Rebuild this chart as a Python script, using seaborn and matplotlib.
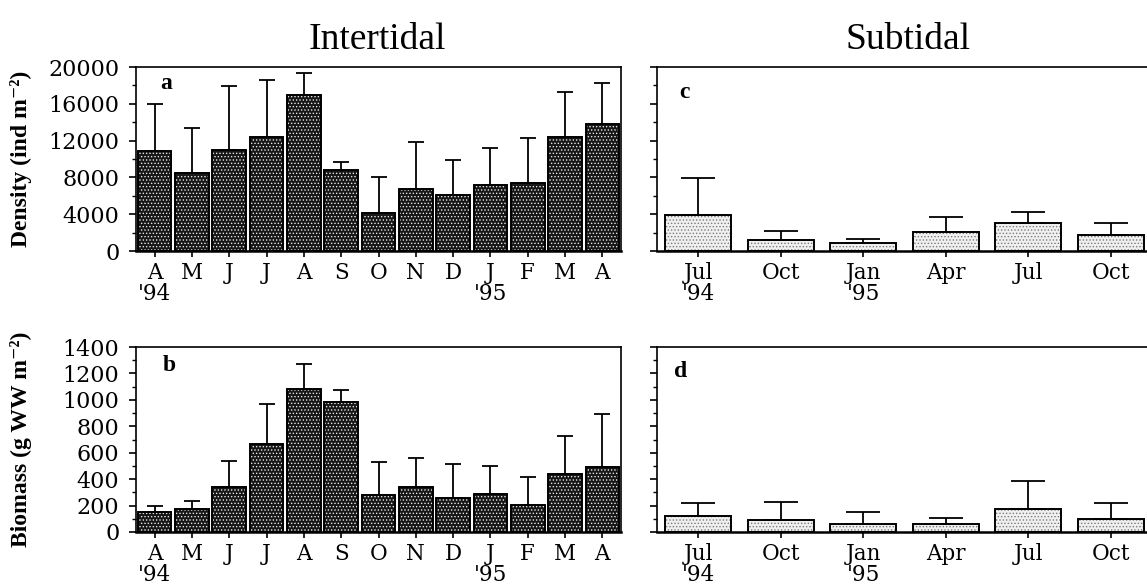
"""
Intertidal vs subtidal density and biomass, monthly means with upper SD bars
"""

import numpy as np
import pandas as pd
import seaborn as sns
import matplotlib.pyplot as plt
from matplotlib.ticker import MultipleLocator

# intertidal, Apr '94 - Apr '95
inter_months = ["Apr94", "May94", "Jun94", "Jul94", "Aug94", "Sep94", "Oct94",
                "Nov94", "Dec94", "Jan95", "Feb95", "Mar95", "Apr95"]
inter_labels = ["A\n'94", "M", "J", "J", "A", "S", "O", "N", "D", "J\n'95", "F", "M", "A"]
inter_density = [10870, 8480, 10940, 12390, 16960, 8840, 4170, 6700, 6090, 7140, 7360, 12390, 13800]
inter_density_sd = [5070, 4920, 7030, 6230, 2350, 800, 3870, 5180, 3770, 4020, 4960, 4860, 4450]
inter_biomass = [153, 173, 338, 667, 1082, 982, 280, 341, 260, 290, 201, 440, 490]
inter_biomass_sd = [46, 64, 199, 298, 191, 90, 247, 221, 252, 206, 219, 288, 405]

# subtidal, quarterly
sub_months = ["Jul94", "Oct94", "Jan95", "Apr95", "Jul95", "Oct95"]
sub_labels = ["Jul\n'94", "Oct", "Jan\n'95", "Apr", "Jul", "Oct"]
sub_density = [3900, 1150, 870, 2070, 3050, 1750]
sub_density_sd = [4000, 1030, 480, 1640, 1240, 1340]
sub_biomass = [119, 91, 61, 58, 175, 101]
sub_biomass_sd = [97, 135, 91, 46, 208, 122]

W, H = 1147, 586
sns.set_style("ticks", rc={"axes.edgecolor": "black", "text.color": "black",
                           "xtick.color": "black", "ytick.color": "black",
                           "axes.labelcolor": "black"})
plt.rcParams["hatch.linewidth"] = 0.6
fig = plt.figure(figsize=(W / 100, H / 100), dpi=100)

TICK_FONT = ["DejaVu Serif"]
LABEL_FONT = ["Liberation Serif", "DejaVu Serif"]


def add_axes_px(left, top, right, bottom):
    return fig.add_axes([left / W, 1 - bottom / H, (right - left) / W, (bottom - top) / H])


def draw_panel(ax, months, labels, values, sd, dark, width, capsize, ymax, major, minor):
    df = pd.DataFrame({"month": months, "value": values})
    if dark:
        face, dots = "#161616", "#e8e8e8"
    else:
        face, dots = "#f0f0f0", "#7a7a7a"
    # stippled fill, then black outline on top
    sns.barplot(data=df, x="month", y="value", order=months, color=face,
                saturation=1, width=width, errorbar=None, edgecolor=dots,
                linewidth=0, ax=ax)
    for p in ax.patches:
        p.set_hatch(".....")
    sns.barplot(data=df, x="month", y="value", order=months, fill=False,
                width=width, errorbar=None, edgecolor="black", linewidth=1.4, ax=ax)
    pos = np.arange(len(months))
    ax.errorbar(pos, values, yerr=[np.zeros(len(sd)), sd], fmt="none",
                ecolor="black", elinewidth=1.3, capsize=capsize, capthick=1.3, zorder=1)

    ax.set_ylim(0, ymax)
    ax.set_xlim(-0.5, len(months) - 0.5)
    ax.yaxis.set_major_locator(MultipleLocator(major))
    ax.yaxis.set_minor_locator(MultipleLocator(minor))
    ax.set_xticks(pos)
    ax.set_xticklabels(labels, family=TICK_FONT, fontsize=15.5, linespacing=0.95)
    ax.set_xlabel("")
    ax.set_ylabel("")
    ax.tick_params(axis="x", direction="out", length=4, width=1.2, pad=4)
    ax.tick_params(axis="y", which="major", direction="out", length=5, width=1.2, pad=7)
    ax.tick_params(axis="y", which="minor", direction="out", length=3, width=1.0)
    for s in ax.spines.values():
        s.set_linewidth(1.2)
        s.set_visible(True)
    ax.spines["bottom"].set_linewidth(1.8)


ax_a = add_axes_px(136, 67, 621, 251)
ax_b = add_axes_px(136, 347, 621, 532)
ax_c = add_axes_px(657, 67, 1152, 251)
ax_d = add_axes_px(657, 347, 1152, 532)

draw_panel(ax_a, inter_months, inter_labels, inter_density, inter_density_sd,
           True, 0.9, 6, 20000, 4000, 2000)
draw_panel(ax_b, inter_months, inter_labels, inter_biomass, inter_biomass_sd,
           True, 0.9, 6, 1400, 200, 100)
draw_panel(ax_c, sub_months, sub_labels, sub_density, sub_density_sd,
           False, 0.8, 12, 20000, 4000, 2000)
draw_panel(ax_d, sub_months, sub_labels, sub_biomass, sub_biomass_sd,
           False, 0.8, 12, 1400, 200, 100)

for ax in (ax_a, ax_b):
    for t in ax.get_yticklabels():
        t.set_family(TICK_FONT)
        t.set_fontsize(16)
for ax in (ax_c, ax_d):
    ax.set_yticklabels([])

ax_a.set_ylabel("Density (ind m⁻²)", family=LABEL_FONT, fontsize=17, fontweight="bold")
ax_b.set_ylabel("Biomass (g WW m⁻²)", family=LABEL_FONT, fontsize=17, fontweight="bold")
ax_a.yaxis.set_label_coords(-0.215, 0.5)
ax_b.yaxis.set_label_coords(-0.215, 0.5)

for ax, letter, x, y in [(ax_a, "a", 0.05, 0.91), (ax_b, "b", 0.055, 0.9),
                         (ax_c, "c", 0.045, 0.86), (ax_d, "d", 0.035, 0.87)]:
    ax.text(x, y, letter, transform=ax.transAxes, family=LABEL_FONT,
            fontsize=17, fontweight="bold", va="center", ha="left")

fig.text(377 / W, 1 - 40 / H, "Intertidal", family=LABEL_FONT, fontsize=27,
         ha="center", va="center")
fig.text(908 / W, 1 - 40 / H, "Subtidal", family=LABEL_FONT, fontsize=27,
         ha="center", va="center")

fig.savefig("out.png", dpi=100, facecolor="white")
